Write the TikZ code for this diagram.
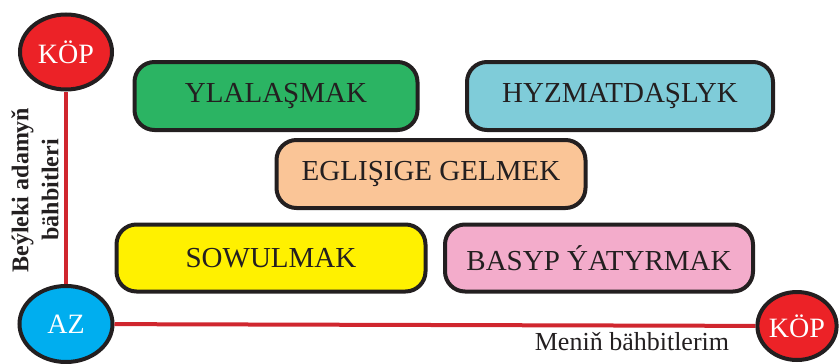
\documentclass[tikz,border=0pt]{standalone}
\usepackage{fontspec}
\setmainfont{Liberation Serif}
\usetikzlibrary{shapes.geometric}
\definecolor{cgreen}{HTML}{2BB463}
\definecolor{cteal}{HTML}{7FCCD9}
\definecolor{corange}{HTML}{FAC597}
\definecolor{cyellow}{HTML}{FFF100}
\definecolor{cpink}{HTML}{F3ACCB}
\definecolor{cred}{HTML}{EC2227}
\definecolor{cblue}{HTML}{00AEEF}
\definecolor{cline}{HTML}{D0262E}
\definecolor{cink}{HTML}{231F20}
\tikzset{
  box/.style={draw=cink, line width=4pt, rounded corners=20pt, inner sep=0pt,
    minimum height=68pt, text=cink, font=\fontsize{29}{32}\selectfont},
  endpt/.style={ellipse, draw=cink, line width=4pt, inner sep=0pt, text=white,
    font=\fontsize{28}{30}\selectfont},
  axis/.style={cline, line width=4pt},
}
\begin{document}
\begin{tikzpicture}[x=1pt,y=-1pt]
\useasboundingbox (0,0) rectangle (839,364);
% end points
\node[endpt, fill=cred, minimum width=92pt, minimum height=75pt] (top) at (66,52) {KÖP};
\node[endpt, fill=cblue, minimum width=93pt, minimum height=76pt] (az) at (66,324) {AZ};
\node[endpt, fill=cred, minimum width=78pt, minimum height=68pt] (right) at (797,326) {KÖP};
% axes
\draw[axis] (top) -- (az);
\draw[axis] (az) -- (right);
% boxes
\node[box, fill=cgreen, minimum width=283pt] (ylal) at (276,96) {YLALAŞMAK};
\node[box, fill=cteal, minimum width=306pt] (hyzm) at (620,96) {HYZMATDAŞLYK};
\node[box, fill=corange, minimum width=309pt] (egli) at (431,174) {EGLIŞIGE GELMEK};
\node[box, fill=cyellow, minimum width=309pt, minimum height=67pt] (sowu) at (271,258) {SOWULMAK};
\node[box, fill=cpink, minimum width=308pt, minimum height=67pt] (basy) at (599,258) {BASYP ÝATYRMAK};
% axis labels
\node[anchor=base, text=cink, font=\fontsize{26}{28}\selectfont, inner sep=0pt] (xlab) at (632,350) {Meniň bähbitlerim};
\node[rotate=90, align=center, text=cink, font=\fontsize{24}{30}\bfseries\selectfont, inner sep=0pt] (ylab) at (35,190) {Beýleki adamyň\\bähbitleri};
\end{tikzpicture}
\end{document}
